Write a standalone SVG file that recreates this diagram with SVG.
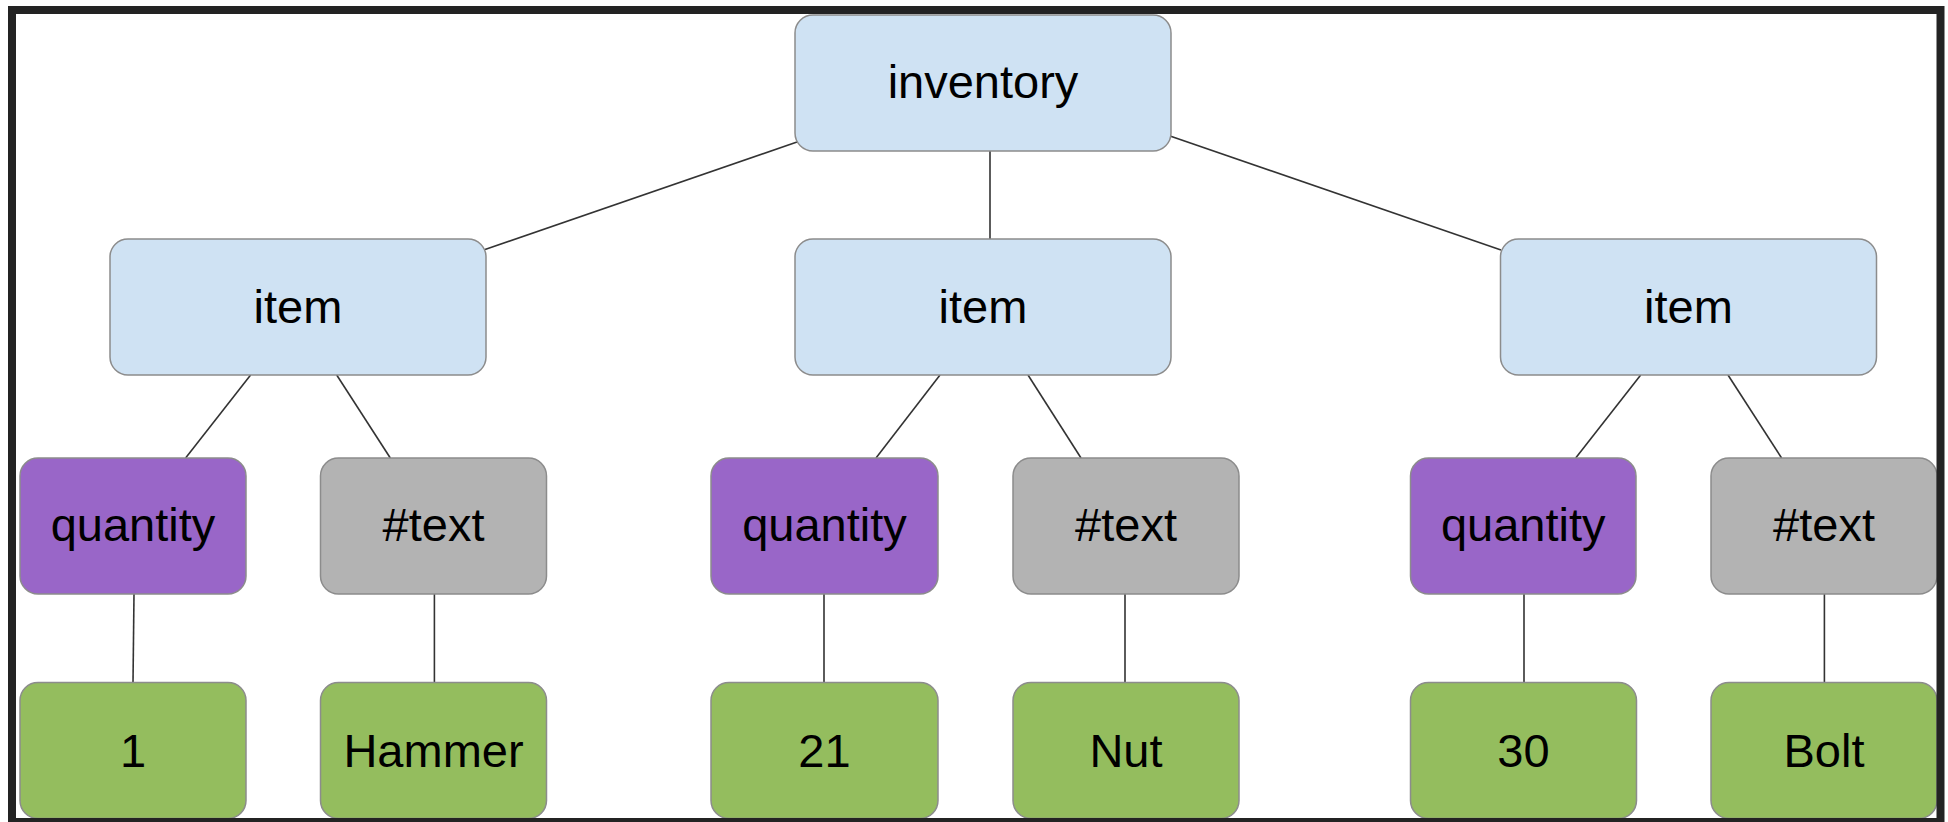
<svg xmlns="http://www.w3.org/2000/svg" width="1948" height="822" viewBox="0 0 1948 822">
<style>
.n rect{stroke:#8c8c8c;stroke-width:1.5}
.blue rect{fill:#cfe2f3}
.purple rect{fill:#9966c8}
.gray rect{fill:#b3b3b3}
.green rect{fill:#94bd5e}
.n text{font-family:"Liberation Sans",Arial,sans-serif;font-size:47px;fill:#000;text-anchor:middle}
#connectors line{stroke:#333;stroke-width:1.6}
</style>
<rect x="0" y="0" width="1948" height="822" fill="#fff"/>
<g id="connectors">
<line x1="797" y1="142" x2="485" y2="249.5"/>
<line x1="990" y1="151" x2="990" y2="239"/>
<line x1="1170" y1="136" x2="1501" y2="250"/>
<line x1="250.6" y1="375" x2="185.6" y2="458"/>
<line x1="336.7" y1="375" x2="390.3" y2="458"/>
<line x1="940" y1="375" x2="876" y2="458"/>
<line x1="1028" y1="375" x2="1081" y2="458"/>
<line x1="1640.7" y1="375" x2="1575.7" y2="458"/>
<line x1="1728" y1="375" x2="1781.6" y2="458"/>
<line x1="134" y1="594" x2="133" y2="682.5"/>
<line x1="434.4" y1="594" x2="434.4" y2="682.5"/>
<line x1="824" y1="594" x2="824" y2="682.5"/>
<line x1="1125" y1="594" x2="1125" y2="682.5"/>
<line x1="1524" y1="594" x2="1524" y2="682.5"/>
<line x1="1824.4" y1="594" x2="1824.4" y2="682.5"/>
</g>
<g id="inventory" class="n blue"><rect x="795" y="15" width="376" height="136" rx="18"/><text x="983" y="98">inventory</text></g>
<g id="item1" class="n blue"><rect x="110" y="239" width="376" height="136" rx="18"/><text x="298" y="323">item</text></g>
<g id="item2" class="n blue"><rect x="795" y="239" width="376" height="136" rx="18"/><text x="983" y="323">item</text></g>
<g id="item3" class="n blue"><rect x="1500.5" y="239" width="376" height="136" rx="18"/><text x="1688.5" y="323">item</text></g>
<g id="quantity1" class="n purple"><rect x="20" y="458" width="226" height="136" rx="18"/><text x="133" y="541">quantity</text></g>
<g id="text1" class="n gray"><rect x="320.5" y="458" width="226" height="136" rx="18"/><text x="433.5" y="541">#text</text></g>
<g id="quantity2" class="n purple"><rect x="711" y="458" width="227" height="136" rx="18"/><text x="824.5" y="541">quantity</text></g>
<g id="text2" class="n gray"><rect x="1013" y="458" width="226" height="136" rx="18"/><text x="1126" y="541">#text</text></g>
<g id="quantity3" class="n purple"><rect x="1410.5" y="458" width="225.5" height="136" rx="18"/><text x="1523.2" y="541">quantity</text></g>
<g id="text3" class="n gray"><rect x="1711" y="458" width="226" height="136" rx="18"/><text x="1824" y="541">#text</text></g>
<g id="value1" class="n green"><rect x="20" y="682.5" width="226" height="136" rx="18"/><text x="133" y="766.5">1</text></g>
<g id="hammer" class="n green"><rect x="320.5" y="682.5" width="226" height="136" rx="18"/><text x="433.5" y="766.5">Hammer</text></g>
<g id="value21" class="n green"><rect x="711" y="682.5" width="227" height="136" rx="18"/><text x="824.5" y="766.5">21</text></g>
<g id="nut" class="n green"><rect x="1013" y="682.5" width="226" height="136" rx="18"/><text x="1126" y="766.5">Nut</text></g>
<g id="value30" class="n green"><rect x="1410.5" y="682.5" width="226" height="136" rx="18"/><text x="1523.5" y="766.5">30</text></g>
<g id="bolt" class="n green"><rect x="1711" y="682.5" width="226" height="136" rx="18"/><text x="1824" y="766.5">Bolt</text></g>
<rect id="frame" x="12" y="10" width="1928.5" height="812" fill="none" stroke="#232323" stroke-width="8"/>
</svg>
